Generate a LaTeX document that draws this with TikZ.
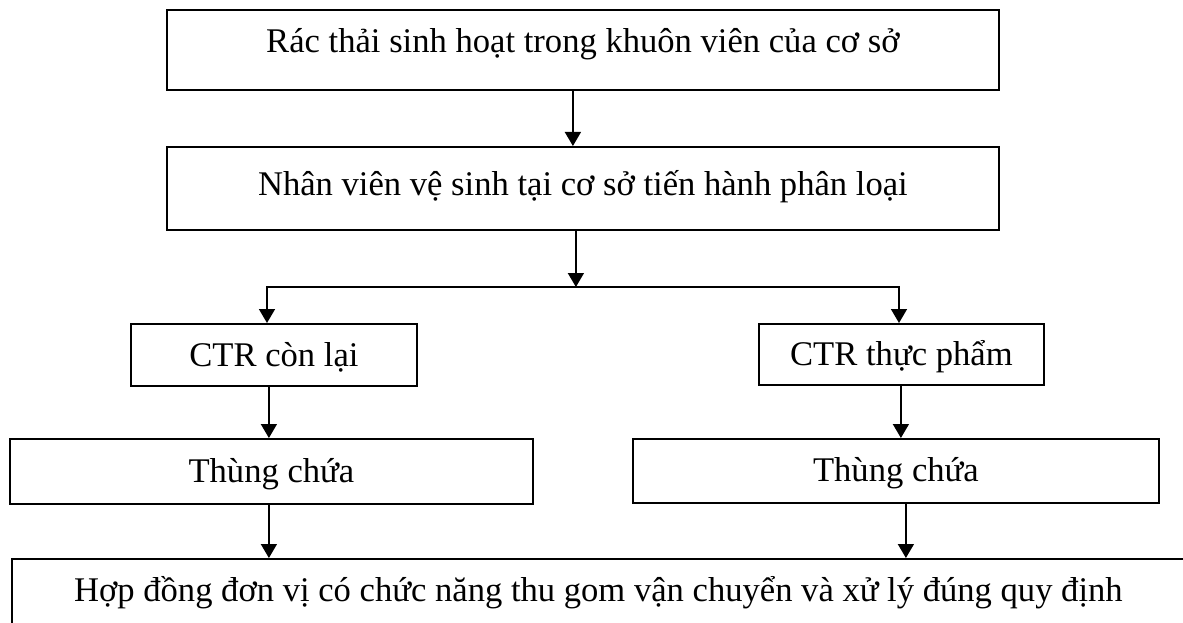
\documentclass[tikz,border=0pt]{standalone}
\usepackage{fontspec}
\setmainfont{Liberation Serif}
\usetikzlibrary{arrows.meta}

\tikzset{
  box/.style={draw, line width=1.8pt, rectangle, inner sep=0pt, anchor=north west,
              font=\fontsize{34.6}{40}\selectfont},
  arr/.style={line width=1.6pt, -{Triangle[width=16pt,length=14pt]}}
}

\begin{document}
\begin{tikzpicture}[x=1pt,y=-1pt]
  \useasboundingbox (0,0) rectangle (1183,623);
  \clip (0,0) rectangle (1183,623);

  % process steps
  \node[box, minimum width=832pt, text height=43pt, text depth=37pt] (r1) at (166,9)
    {Rác thải sinh hoạt trong khuôn viên của cơ sở};
  \node[box, minimum width=832pt, text height=49pt, text depth=34pt] (r2) at (166,146)
    {Nhân viên vệ sinh tại cơ sở tiến hành phân loại};

  % two waste streams
  \node[box, minimum width=286pt, text height=43pt, text depth=19pt] (c1) at (130,323)
    {CTR còn lại};
  \node[box, minimum width=285pt, text height=42pt, text depth=19pt] (c2) at (758,323)
    {CTR thực phẩm};

  % containers
  \node[box, minimum width=523pt, text height=44pt, text depth=21pt] (t1) at (9,438)
    {Thùng chứa};
  \node[box, minimum width=526pt, text height=43pt, text depth=21pt] (t2) at (632,438)
    {Thùng chứa};

  % final handling
  \node[box, minimum width=1173pt, text height=43pt, text depth=21.5pt] (b) at (11,558)
    {Hợp đồng đơn vị có chức năng thu gom vận chuyển và xử lý đúng quy định};

  % branch points
  \coordinate (j)  at (575,287);
  \coordinate (jl) at (267,287);
  \coordinate (jr) at (899,287);

  % connectors
  \draw[arr] ([xshift=-10pt]r1.south) -- ([xshift=-10pt]r1.south |- r2.north);
  \draw[arr] ([xshift=-7pt]r2.south) -- ([xshift=-7pt]r2.south |- j);
  \draw[arr] (jr) -- (jl) -- (jl |- c1.north);
  \draw[arr] (jl) -- (jr) -- (jr |- c2.north);
  \draw[arr] ([xshift=-5pt]c1.south) -- ([xshift=-5pt]c1.south |- t1.north);
  \draw[arr] ([xshift=-0.5pt]c2.south) -- ([xshift=-0.5pt]c2.south |- t2.north);
  \draw[arr] ([xshift=-2.5pt]t1.south) -- ([xshift=-2.5pt]t1.south |- b.north);
  \draw[arr] ([xshift=10pt]t2.south) -- ([xshift=10pt]t2.south |- b.north);
\end{tikzpicture}
\end{document}
